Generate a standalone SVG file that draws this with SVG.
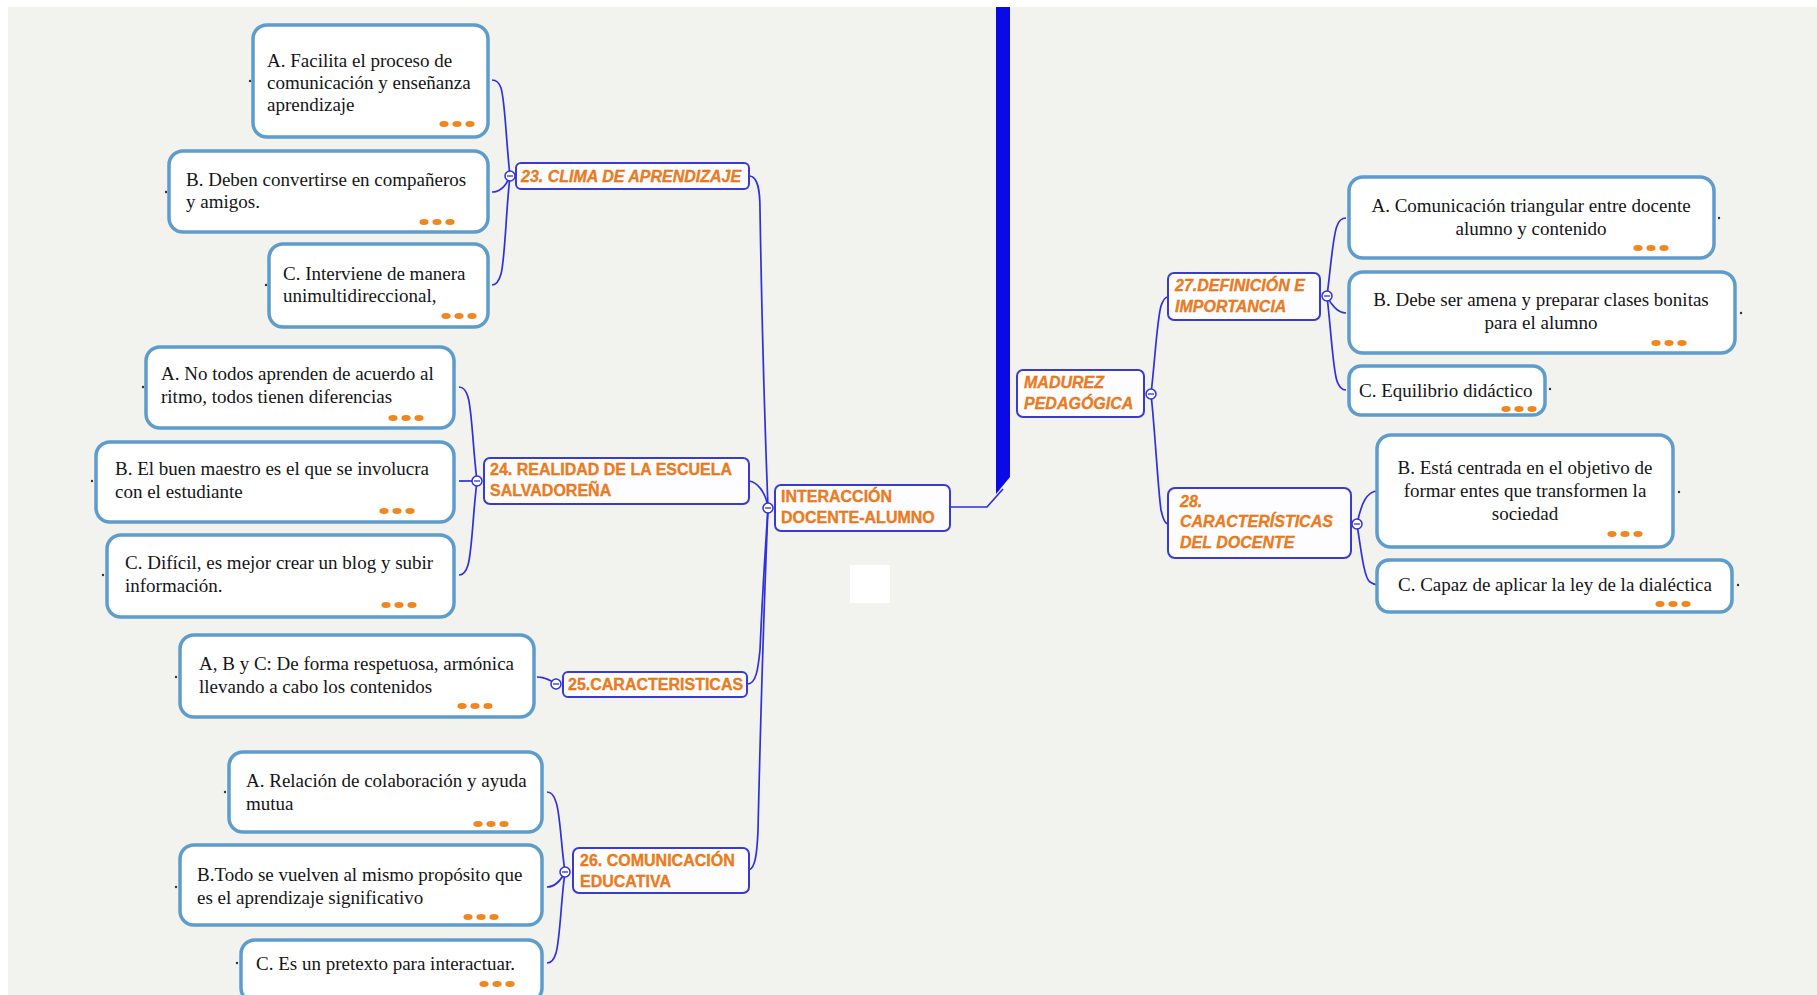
<svg xmlns="http://www.w3.org/2000/svg" width="1817" height="995" viewBox="0 0 1817 995">
<defs>
<style>
.bg{fill:#f2f2ee}
.body rect{fill:#ffffff;stroke:#5d9ccb;stroke-width:3.5}
.lbl rect{fill:#fdfdff;stroke:#3a3ad2;stroke-width:2}
.t{font-family:"Liberation Serif","Times New Roman",serif;font-size:19px;fill:#151515}
.c{text-anchor:middle}
.l{font-family:"Liberation Sans",Arial,sans-serif;font-size:16px;font-weight:bold;fill:#f07d1e;stroke:#d86a10;stroke-width:0.3}
.i{font-style:italic}
.dot{fill:#f0861e}
.mk{fill:#333333}
.conn path{fill:none;stroke:#2f2fe0;stroke-width:1.7}
.jn circle{fill:#ffffff;stroke:#2f2fe0;stroke-width:1.5}
.jn path{stroke:#2f2fe0;stroke-width:1.3}
</style>
<g id="dots3">
<ellipse class="dot" cx="0" cy="0" rx="4.6" ry="3"/>
<ellipse class="dot" cx="13" cy="0" rx="4.6" ry="3"/>
<ellipse class="dot" cx="26" cy="0" rx="4.6" ry="3"/>
</g>
</defs>
<rect x="0" y="0" width="1817" height="995" fill="#ffffff"/>
<rect class="bg" x="8" y="7" width="1809" height="988"/>

<!-- main blue bar -->
<polygon points="996,7 1010,7 1010,477 996,494" fill="#0a0ae8"/>
<rect x="850" y="565" width="40" height="38" fill="#ffffff"/>

<g id="connectors" class="conn">
<path d="M950,507 H987 L1003,489"/>
<path d="M750,176 C758,177 760,190 760,210 C762,330 765,430 768,508"/>
<path d="M749,481 C757,482 766,492 768,508"/>
<path d="M748,684 C756,683 758,670 760,650 C763,580 766,540 768,508"/>
<path d="M749,870 C755,868 757,855 758,830 C761,700 765,580 768,508"/>
<path d="M510,176 C506,140 505,100 501,88 C499,82 496,80 492,80"/>
<path d="M510,176 C506,186 500,192 492,192"/>
<path d="M510,176 C506,210 505,260 501,274 C499,281 496,285 492,285"/>
<path d="M477,481 C473,450 472,410 468,397 C466,390 463,387 459,387"/>
<path d="M477,481 C472,481 465,481 459,481"/>
<path d="M477,481 C473,512 472,552 468,565 C466,572 463,575 459,575"/>
<path d="M556,684 C550,680 545,677 537,677"/>
<path d="M565,872 C561,845 560,812 556,802 C554,795 551,792 547,792"/>
<path d="M565,872 C561,880 555,887 547,887"/>
<path d="M565,872 C561,900 560,940 556,953 C554,960 551,963 547,963"/>
<path d="M1151,394 C1155,360 1157,320 1161,306 C1163,300 1165,297 1168,297"/>
<path d="M1151,394 C1155,430 1158,490 1161,510 C1163,519 1165,524 1168,524"/>
<path d="M1327,296 C1331,265 1333,235 1337,226 C1339,220 1342,218 1346,218"/>
<path d="M1327,296 C1331,305 1338,313 1346,313"/>
<path d="M1327,296 C1331,330 1333,370 1337,381 C1339,387 1342,390 1346,390"/>
<path d="M1357,524 C1361,505 1366,491 1378,491"/>
<path d="M1357,524 C1361,550 1364,578 1370,582 C1373,584 1375,585 1378,585"/>
</g>

<g id="junctions" class="jn">
<circle cx="768" cy="508" r="5"/><path d="M765,508 H771"/>
<circle cx="510" cy="176" r="5"/><path d="M507,176 H513"/>
<circle cx="477" cy="481" r="5"/><path d="M474,481 H480"/>
<circle cx="556" cy="684" r="5"/><path d="M553,684 H559"/>
<circle cx="565" cy="872" r="5"/><path d="M562,872 H568"/>
<circle cx="1151" cy="394" r="5"/><path d="M1148,394 H1154"/>
<circle cx="1327" cy="296" r="5"/><path d="M1324,296 H1330"/>
<circle cx="1357" cy="524" r="5"/><path d="M1354,524 H1360"/>
</g>

<!-- label nodes -->
<g id="n-interaccion" class="lbl">
<rect x="775" y="485" width="175" height="46" rx="6"/>
<text class="l" x="781" y="502">INTERACCIÓN</text>
<text class="l" x="781" y="523">DOCENTE-ALUMNO</text>
</g>
<g id="n-23" class="lbl">
<rect x="516" y="163" width="233" height="26" rx="5"/>
<text class="l i" x="521" y="182">23. CLIMA DE APRENDIZAJE</text>
</g>
<g id="n-24" class="lbl">
<rect x="484" y="458" width="265" height="46" rx="6"/>
<text class="l" x="490" y="475">24. REALIDAD DE LA ESCUELA</text>
<text class="l" x="490" y="496">SALVADOREÑA</text>
</g>
<g id="n-25" class="lbl">
<rect x="563" y="672" width="184" height="25" rx="5"/>
<text class="l" x="568" y="690">25.CARACTERISTICAS</text>
</g>
<g id="n-26" class="lbl">
<rect x="573" y="848" width="176" height="45" rx="6"/>
<text class="l" x="580" y="866">26. COMUNICACIÓN</text>
<text class="l" x="580" y="887">EDUCATIVA</text>
</g>
<g id="n-madurez" class="lbl">
<rect x="1017" y="370" width="127" height="47" rx="6"/>
<text class="l i" x="1024" y="388">MADUREZ</text>
<text class="l i" x="1024" y="409">PEDAGÓGICA</text>
</g>
<g id="n-27" class="lbl">
<rect x="1168" y="273" width="152" height="47" rx="6"/>
<text class="l i" x="1175" y="291">27.DEFINICIÓN E</text>
<text class="l i" x="1175" y="312">IMPORTANCIA</text>
</g>
<g id="n-28" class="lbl">
<rect x="1168" y="488" width="183" height="70" rx="7"/>
<text class="l i" x="1180" y="507">28.</text>
<text class="l i" x="1180" y="527">CARACTERÍSTICAS</text>
<text class="l i" x="1180" y="548">DEL DOCENTE</text>
</g>

<!-- body nodes left -->
<g id="n-23a" class="body">
<rect x="253" y="25" width="235" height="112" rx="14"/>
<text class="t" x="267" y="67">A. Facilita el proceso de</text>
<text class="t" x="267" y="89">comunicación y enseñanza</text>
<text class="t" x="267" y="111">aprendizaje</text>
<use href="#dots3" x="444" y="124"/>
<circle class="mk" cx="250" cy="81" r="1.2"/>
</g>
<g id="n-23b" class="body">
<rect x="169" y="151" width="319" height="81" rx="14"/>
<text class="t" x="186" y="186">B. Deben convertirse en compañeros</text>
<text class="t" x="186" y="208">y amigos.</text>
<use href="#dots3" x="424" y="222"/>
<circle class="mk" cx="166" cy="192" r="1.2"/>
</g>
<g id="n-23c" class="body">
<rect x="269" y="244" width="219" height="83" rx="14"/>
<text class="t" x="283" y="280">C. Interviene de manera</text>
<text class="t" x="283" y="302">unimultidireccional,</text>
<use href="#dots3" x="446" y="316"/>
<circle class="mk" cx="266" cy="285" r="1.2"/>
</g>
<g id="n-24a" class="body">
<rect x="146" y="347" width="308" height="81" rx="14"/>
<text class="t" x="161" y="380">A. No todos aprenden de acuerdo al</text>
<text class="t" x="161" y="403">ritmo, todos tienen diferencias</text>
<use href="#dots3" x="393" y="418"/>
<circle class="mk" cx="143" cy="387" r="1.2"/>
</g>
<g id="n-24b" class="body">
<rect x="96" y="442" width="358" height="80" rx="14"/>
<text class="t" x="115" y="475">B. El buen maestro es el que se involucra</text>
<text class="t" x="115" y="498">con el estudiante</text>
<use href="#dots3" x="384" y="511"/>
<circle class="mk" cx="92" cy="481" r="1.2"/>
</g>
<g id="n-24c" class="body">
<rect x="107" y="535" width="347" height="82" rx="14"/>
<text class="t" x="125" y="569">C. Difícil, es mejor crear un blog y subir</text>
<text class="t" x="125" y="592">información.</text>
<use href="#dots3" x="386" y="605"/>
<circle class="mk" cx="103" cy="575" r="1.2"/>
</g>
<g id="n-25a" class="body">
<rect x="180" y="635" width="354" height="82" rx="14"/>
<text class="t" x="199" y="670">A, B y C: De forma respetuosa, armónica</text>
<text class="t" x="199" y="693">llevando a cabo los contenidos</text>
<use href="#dots3" x="462" y="706"/>
<circle class="mk" cx="176" cy="677" r="1.2"/>
</g>
<g id="n-26a" class="body">
<rect x="229" y="752" width="313" height="80" rx="14"/>
<text class="t" x="246" y="787">A. Relación de colaboración y ayuda</text>
<text class="t" x="246" y="810">mutua</text>
<use href="#dots3" x="478" y="824"/>
<circle class="mk" cx="225" cy="792" r="1.2"/>
</g>
<g id="n-26b" class="body">
<rect x="180" y="845" width="362" height="80" rx="14"/>
<text class="t" x="197" y="881">B.Todo se vuelven al mismo propósito que</text>
<text class="t" x="197" y="904">es el aprendizaje significativo</text>
<use href="#dots3" x="468" y="917"/>
<circle class="mk" cx="176" cy="887" r="1.2"/>
</g>
<g id="n-26c" class="body">
<rect x="241" y="940" width="301" height="62" rx="14"/>
<text class="t" x="256" y="970">C. Es un pretexto para interactuar.</text>
<use href="#dots3" x="484" y="984"/>
<circle class="mk" cx="237" cy="963" r="1.2"/>
</g>

<!-- body nodes right -->
<g id="n-27a" class="body">
<rect x="1349" y="177" width="365" height="81" rx="14"/>
<text class="t c" x="1531" y="212">A. Comunicación triangular entre docente</text>
<text class="t c" x="1531" y="235">alumno y contenido</text>
<use href="#dots3" x="1638" y="248"/>
<circle class="mk" cx="1719" cy="218" r="1.2"/>
</g>
<g id="n-27b" class="body">
<rect x="1349" y="272" width="386" height="81" rx="14"/>
<text class="t c" x="1541" y="306">B. Debe ser amena y preparar clases bonitas</text>
<text class="t c" x="1541" y="329">para el alumno</text>
<use href="#dots3" x="1656" y="343"/>
<circle class="mk" cx="1741" cy="313" r="1.2"/>
</g>
<g id="n-27c" class="body">
<rect x="1349" y="366" width="196" height="49" rx="12"/>
<text class="t" x="1359" y="397">C. Equilibrio didáctico</text>
<use href="#dots3" x="1506" y="409"/>
<circle class="mk" cx="1550" cy="389" r="1.2"/>
</g>
<g id="n-28b" class="body">
<rect x="1377" y="435" width="296" height="112" rx="14"/>
<text class="t c" x="1525" y="474">B. Está centrada en el objetivo de</text>
<text class="t c" x="1525" y="497">formar entes que transformen la</text>
<text class="t c" x="1525" y="520">sociedad</text>
<use href="#dots3" x="1612" y="534"/>
<circle class="mk" cx="1679" cy="492" r="1.2"/>
</g>
<g id="n-28c" class="body">
<rect x="1377" y="560" width="355" height="52" rx="12"/>
<text class="t" x="1398" y="591">C. Capaz de aplicar la ley de la dialéctica</text>
<use href="#dots3" x="1660" y="604"/>
<circle class="mk" cx="1738" cy="585" r="1.2"/>
</g>
</svg>
